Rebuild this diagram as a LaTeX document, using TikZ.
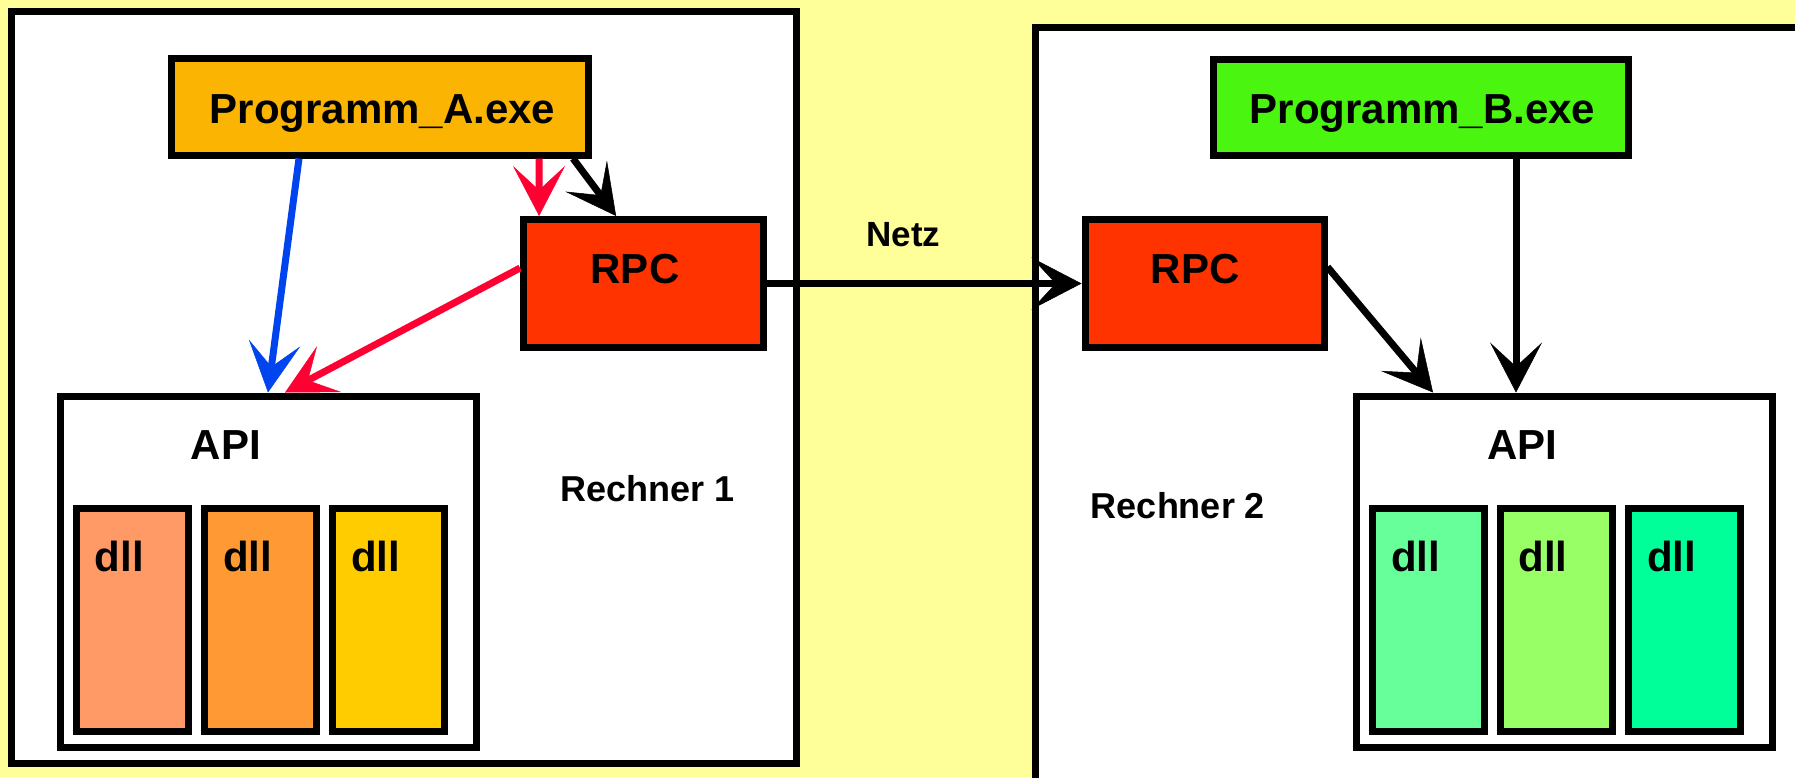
\documentclass[tikz,border=0pt]{standalone}
\usepackage{fontspec}
\setmainfont{Liberation Sans}
\usetikzlibrary{arrows.meta,calc}
\definecolor{bgyellow}{RGB}{255,255,153}
\definecolor{progA}{RGB}{252,180,2}
\definecolor{progB}{RGB}{74,245,16}
\definecolor{rpcred}{RGB}{255,51,0}
\definecolor{dllA}{RGB}{255,153,102}
\definecolor{dllB}{RGB}{255,153,51}
\definecolor{dllC}{RGB}{255,204,0}
\definecolor{dllD}{RGB}{102,255,153}
\definecolor{dllE}{RGB}{153,255,102}
\definecolor{dllF}{RGB}{0,255,153}
\definecolor{arrblue}{RGB}{0,68,238}
\definecolor{arrred}{RGB}{255,0,51}
\begin{document}
\begin{tikzpicture}[x=1pt,y=-1pt,
  box/.style={draw=black, line width=7pt, rectangle, inner sep=0pt},
  lbl/.style={inner sep=0pt, anchor=base, font=\bfseries\fontsize{42}{50}\selectfont},
  smalllbl/.style={inner sep=0pt, anchor=base, font=\bfseries\fontsize{36}{44}\selectfont},
  conn/.style={line width=7pt, -{Stealth[length=50pt,width=52pt,inset=24pt,line width=0.5pt]}}
]
\useasboundingbox (0,0) rectangle (1795,777);
\clip (0,0) rectangle (1795,777);
\fill[bgyellow] (0,0) rectangle (1795,777);

% computers
\node[box, fill=white, minimum width=784.5pt, minimum height=751.5pt] (r1) at (403.75,387.25) {};
\node[box, fill=white, minimum width=805pt, minimum height=756pt] (r2) at (1437.5,405) {};

% programs
\node[box, fill=progA, minimum width=416.5pt, minimum height=96.5pt] (pa) at (379.75,106.75) {};
\node[box, fill=progB, minimum width=415pt, minimum height=96pt] (pb) at (1420.5,107.5) {};

% RPC boxes
\node[box, fill=rpcred, minimum width=240pt, minimum height=128pt] (rpc1) at (643.6,283.5) {};
\node[box, fill=rpcred, minimum width=239pt, minimum height=128pt] (rpc2) at (1204.5,283.5) {};

% API boxes
\node[box, fill=white, minimum width=416pt, minimum height=351pt] (api1) at (268,571.5) {};
\node[box, fill=white, minimum width=416pt, minimum height=351pt] (api2) at (1564,571.5) {};

% dll boxes
\node[box, fill=dllA, minimum width=112pt, minimum height=223pt] (d1) at (132,619.6) {};
\node[box, fill=dllB, minimum width=112pt, minimum height=223pt] (d2) at (260,619.6) {};
\node[box, fill=dllC, minimum width=112pt, minimum height=223pt] (d3) at (388,619.6) {};
\node[box, fill=dllD, minimum width=112pt, minimum height=223pt] (d4) at (1428,619.6) {};
\node[box, fill=dllE, minimum width=112pt, minimum height=223pt] (d5) at (1556,619.6) {};
\node[box, fill=dllF, minimum width=112pt, minimum height=223pt] (d6) at (1684,619.6) {};

% labels
\node[lbl] (tpa) at (382.5,123) {Programm\_A.exe};
\node[lbl] (tpb) at (1422.5,123) {Programm\_B.exe};
\node[lbl] (trpc1) at (635,283.3) {RPC};
\node[lbl] (trpc2) at (1195,283.3) {RPC};
\node[lbl] (tapi1) at (226,459) {API};
\node[lbl] (tapi2) at (1522,459) {API};
\node[lbl] (td1) at (119.3,571) {dll};
\node[lbl] (td2) at (247.5,571) {dll};
\node[lbl] (td3) at (375.7,571) {dll};
\node[lbl] (td4) at (1415.5,571) {dll};
\node[lbl] (td5) at (1543,571) {dll};
\node[lbl] (td6) at (1671.7,571) {dll};
\node[smalllbl, font=\bfseries\fontsize{35}{42}\selectfont] (tnetz) at (903.5,246) {Netz};
\node[smalllbl] (tr1) at (647.5,501.7) {Rechner 1};
\node[smalllbl] (tr2) at (1178,518.3) {Rechner 2};

% connector end points
\coordinate (pbout) at ([xshift=-115.5pt]pb.south east);

% connectors
\draw[conn, arrblue] ([xshift=131pt]pa.south west) -- (api1.north);
\draw[conn, arrred] ([yshift=15.5pt]rpc1.west) -- ([xshift=17pt]api1.north);
\draw[conn, arrred] ([xshift=371pt]pa.south west) -- ([xshift=19pt]rpc1.north west);
\draw[conn, black] ([xshift=-18.5pt]pa.south east) -- ([xshift=96pt]rpc1.north west);
\draw[conn, black] (rpc1.east) -- (rpc2.west);
\draw[conn, black] ([yshift=16.5pt]rpc2.east) -- ([xshift=80.5pt]api2.north west);
\draw[conn, black] (pbout) -- (pbout |- api2.north);
\end{tikzpicture}
\end{document}
